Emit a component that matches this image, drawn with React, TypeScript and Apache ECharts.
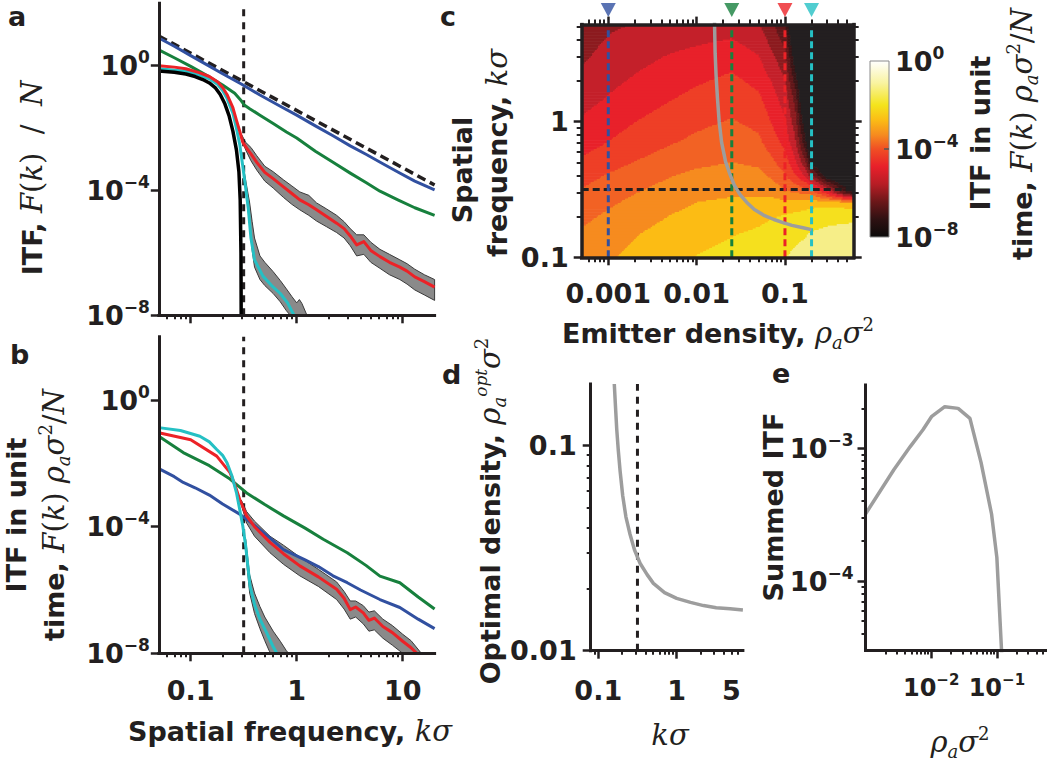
import React, { useEffect, useRef } from "react";
import * as echarts from "echarts";

// ---------------- data ----------------
const kCut = 0.316;

// Panel a: ITF F(k)/N vs spatial frequency kσ  ([kσ, value])
const theoryA = [[0.05, 9], [20, 1.5e-4]];
const blueA = [[0.05,7.7],[0.07,4.2],[0.1,2.1],[0.14,1.1],[0.2,0.55],[0.3,0.26],[0.45,0.115],[0.7,0.05],[1,0.026],[1.5,0.0118],[2.2,0.0057],[3.2,0.0027],[4.5,0.00145],[6.5,7.2e-4],[9,3.9e-4],[13,2e-4],[20,1.05e-4]];
const greenA = [[0.05,3.2],[0.07,1.8],[0.1,0.95],[0.14,0.5],[0.2,0.24],[0.26,0.13],[0.3,0.075],[0.32,0.055],[0.36,0.042],[0.45,0.026],[0.6,0.014],[0.8,0.0075],[1,0.0048],[1.5,0.0018],[2.2,8e-4],[3.2,3.6e-4],[4.5,1.8e-4],[6.1,9.5e-5],[9,5e-5],[13,2.8e-5],[20,1.6e-5]];
const redA = [[0.05,1.0],[0.07,0.9],[0.09,0.8],[0.12,0.6],[0.15,0.45],[0.18,0.3],[0.2,0.2],[0.22,0.12],[0.25,0.045],[0.27,0.018],[0.29,0.008],[0.31,0.0035],[0.34,0.0022],[0.37,0.0015],[0.42,8e-4],[0.5,3.8e-4],[0.6,2.4e-4],[0.75,1.3e-4],[0.9,8e-5],[1.07,5e-5],[1.3,3.5e-5],[1.54,2.4e-5],[1.9,1.5e-5],[2.38,9e-6],[2.8,6e-6],[3.2,3.5e-6],[3.68,1.8e-6],[4.3,2.3e-6],[5,1.2e-6],[6.1,7.6e-7],[7.5,5e-7],[9.4,3.5e-7],[11,2.6e-7],[13,1.7e-7],[16,1.2e-7],[20,8e-8]];
const redBandUpperA = [[0.3,0.0065],[0.33,0.0035],[0.37,0.0024],[0.42,0.0013],[0.5,6e-4],[0.6,4e-4],[0.75,2.2e-4],[0.9,1.4e-4],[1.07,9e-5],[1.3,7e-5],[1.54,4e-5],[1.9,2.6e-5],[2.38,1.6e-5],[2.8,1e-5],[3.2,6e-6],[3.68,3.8e-6],[4.3,3.8e-6],[5,2.2e-6],[6.1,1.3e-6],[7.5,9e-7],[9.4,6e-7],[11,4.5e-7],[13,3e-7],[16,2e-7],[20,1.4e-7]];
const redBandLowerA = [[0.3,0.0045],[0.33,0.002],[0.37,9e-4],[0.42,4.5e-4],[0.5,2e-4],[0.6,1.2e-4],[0.75,6e-5],[0.9,3.6e-5],[1.07,2.4e-5],[1.3,1.6e-5],[1.54,1.05e-5],[1.9,7e-6],[2.38,4.5e-6],[2.8,3e-6],[3.2,1.7e-6],[3.68,8e-7],[4.3,9e-7],[5,5e-7],[6.1,3.2e-7],[7.5,2e-7],[9.4,1.4e-7],[11,1e-7],[13,6.5e-8],[16,4.5e-8],[20,3e-8]];
const cyanA = [[0.05,0.8],[0.09,0.67],[0.12,0.5],[0.15,0.38],[0.18,0.25],[0.2,0.16],[0.22,0.09],[0.25,0.03],[0.27,0.01],[0.29,0.003],[0.31,6e-4],[0.33,1.2e-4],[0.35,2.5e-5],[0.37,3e-6],[0.4,6e-7],[0.48,1.8e-7],[0.58,9e-8],[0.7,5e-8],[0.82,2.5e-8],[0.93,1.1e-8],[1.0,7e-9]];
const cyanBandUpperA = [[0.32,4e-4],[0.34,1.2e-4],[0.36,4e-5],[0.38,1e-5],[0.4,3e-6],[0.45,8e-7],[0.5,5e-7],[0.6,2.5e-7],[0.7,1.3e-7],[0.8,7e-8],[0.9,4e-8],[1.0,2.5e-8],[1.06,3.2e-8],[1.12,2.4e-8],[1.25,1e-8]];
const cyanBandLowerA = [[0.32,2.5e-4],[0.34,5e-5],[0.36,8e-6],[0.38,1.2e-6],[0.4,3.5e-7],[0.45,1.4e-7],[0.5,9e-8],[0.6,5e-8],[0.7,2.7e-8],[0.8,1.4e-8],[0.87,1e-8],[1.25,1e-8]];
const blackA = [[0.05,0.68],[0.07,0.62],[0.09,0.54],[0.11,0.45],[0.13,0.36],[0.15,0.28],[0.17,0.2],[0.19,0.12],[0.21,0.06],[0.23,0.025],[0.25,0.008],[0.27,0.002],[0.285,4e-4],[0.293,5e-5],[0.298,1e-6],[0.3,1e-9]];

// Panel b: ITF in unit time F(k) ρσ²/N
const blueB = [[0.05,0.0068],[0.07,0.0038],[0.085,0.0025],[0.11,0.0017],[0.15,1.0e-3],[0.2,5.2e-4],[0.29,2.5e-4],[0.4,1.1e-4],[0.55,4.6e-5],[0.75,1.9e-5],[1.2,8.9e-6],[1.6,5.5e-6],[2.2,2.8e-6],[3,1.7e-6],[4,1e-6],[6.1,5e-7],[9.4,2.8e-7],[14,1.2e-7],[20,6e-8]];
const greenB = [[0.05,0.072],[0.085,0.022],[0.15,0.0085],[0.235,0.0032],[0.337,0.00117],[0.5,5e-4],[0.75,2.2e-4],[1.2,9e-5],[1.78,4e-5],[3,1.5e-5],[4.5,6e-6],[6.1,2.75e-6],[9.4,1.7e-6],[14,6e-7],[20,2.5e-7]];
const redB = [[0.05,0.093],[0.1,0.056],[0.176,0.017],[0.235,0.0051],[0.26,0.0022],[0.29,7.2e-4],[0.337,2.2e-4],[0.4,1e-4],[0.56,3.2e-5],[0.75,1.4e-5],[1.07,5.8e-6],[1.6,2.6e-6],[2.38,1.05e-6],[2.8,5.5e-7],[3.2,2.4e-7],[3.6,2.9e-7],[4.25,1.9e-7],[4.8,1.1e-7],[5.4,1.3e-7],[6.5,7e-8],[8,4.5e-8],[10,2.4e-8],[12,1.5e-8],[14,9e-9]];
const redBandUpperB = [[0.3,7e-4],[0.337,3e-4],[0.4,1.5e-4],[0.56,5e-5],[0.75,2.6e-5],[1.07,1.1e-5],[1.6,4.5e-6],[2.38,1.8e-6],[2.8,9e-7],[3.2,4.5e-7],[3.6,4.5e-7],[4.25,3.2e-7],[4.8,2e-7],[5.4,2.2e-7],[6.5,1.2e-7],[8,7.5e-8],[10,4e-8],[12,2.5e-8],[15,1e-8]];
const redBandLowerB = [[0.3,5e-4],[0.337,1.3e-4],[0.4,5e-5],[0.56,1.5e-5],[0.75,6.5e-6],[1.07,2.8e-6],[1.6,1.3e-6],[2.38,5e-7],[2.8,2.5e-7],[3.2,1.2e-7],[3.6,1.4e-7],[4.25,8.5e-8],[4.8,5e-8],[5.4,5.5e-8],[6.5,3e-8],[8,1.8e-8],[10,1e-8],[15,1e-8]];
const cyanB = [[0.05,0.135],[0.08,0.11],[0.122,0.072],[0.15,0.048],[0.176,0.0275],[0.2,0.018],[0.22,0.0105],[0.245,0.004],[0.27,0.0012],[0.29,3.5e-4],[0.31,1.05e-4],[0.33,2.5e-5],[0.363,1.3e-6],[0.4,3.5e-7],[0.45,1.2e-7],[0.52,4.5e-8],[0.6,1.6e-8],[0.65,1e-8],[0.7,6e-9]];
const cyanBandUpperB = [[0.33,4e-5],[0.36,3e-6],[0.4,8e-7],[0.45,3e-7],[0.5,1.4e-7],[0.6,5e-8],[0.7,2.4e-8],[0.8,1.2e-8],[0.84,1e-8]];
const cyanBandLowerB = [[0.33,1.5e-5],[0.36,8e-7],[0.4,1.8e-7],[0.45,6e-8],[0.5,2.5e-8],[0.55,1.2e-8],[0.57,1e-8],[0.84,1e-8]];

// Panel c: log10 ITF in unit time on (emitter density, spatial frequency) grid
const densCols = [5e-4, 1e-3, 2e-3, 5e-3, 0.01, 0.025, 0.05, 0.07, 0.1, 0.13, 0.17, 0.2, 0.3, 0.45, 0.62];
const kRows = [0.1, 0.15, 0.2, 0.25, 0.3, 0.4, 0.5, 0.7, 1, 1.5, 2, 3, 5.2];
const itfGrid = [
  [-2.95,-2.75,-2.5,-2.2,-1.98,-1.78,-1.6,-1.48,-1.35,-1.22,-1.12,-1.05,-0.95,-0.9,-0.88],
  [-3.25,-2.98,-2.72,-2.42,-2.22,-2.05,-1.9,-1.76,-1.62,-1.48,-1.38,-1.3,-1.2,-1.15,-1.12],
  [-3.5,-3.22,-2.96,-2.65,-2.45,-2.32,-2.17,-2.05,-1.95,-1.82,-1.7,-1.62,-1.52,-1.48,-1.45],
  [-3.72,-3.43,-3.17,-2.86,-2.65,-2.55,-2.42,-2.4,-2.45,-2.4,-2.35,-2.25,-2.2,-2.3,-2.5],
  [-3.92,-3.62,-3.36,-3.05,-2.85,-2.75,-2.8,-2.85,-3.2,-3.35,-3.5,-3.6,-5.0,-7.0,-8.2],
  [-4.25,-3.95,-3.68,-3.37,-3.18,-3.08,-3.15,-3.45,-3.95,-4.6,-5.4,-6.4,-8.6,-9.5,-9.5],
  [-4.55,-4.25,-3.98,-3.66,-3.47,-3.32,-3.45,-3.85,-4.35,-5.2,-6.5,-8.2,-9.5,-9.5,-9.5],
  [-4.95,-4.65,-4.38,-4.05,-3.85,-3.62,-3.85,-4.32,-4.85,-5.85,-7.8,-9.5,-9.5,-9.5,-9.5],
  [-5.25,-4.95,-4.68,-4.36,-4.15,-3.95,-4.18,-4.7,-5.25,-6.35,-8.6,-9.5,-9.5,-9.5,-9.5],
  [-5.6,-5.3,-5.03,-4.72,-4.5,-4.28,-4.55,-5.05,-5.65,-6.9,-9.5,-9.5,-9.5,-9.5,-9.5],
  [-5.8,-5.5,-5.25,-4.95,-4.75,-4.52,-4.85,-5.35,-5.95,-7.6,-9.5,-9.5,-9.5,-9.5,-9.5],
  [-6.1,-5.8,-5.55,-5.28,-5.12,-4.92,-5.3,-5.85,-6.45,-8.5,-9.5,-9.5,-9.5,-9.5,-9.5],
  [-6.35,-6.1,-5.98,-5.85,-5.75,-5.65,-5.95,-6.5,-7.3,-9.5,-9.5,-9.5,-9.5,-9.5,-9.5],
];
const markerDens = [0.001, 0.025, 0.1, 0.2];

// Panels c/d: optimal density vs spatial frequency
const optK = [0.16, 0.165, 0.172, 0.18, 0.19, 0.205, 0.225, 0.254, 0.29, 0.341, 0.42, 0.505, 0.7, 1.0, 1.5, 2.2, 3.2, 4.8, 7];
const optDens = [0.2, 0.16, 0.12, 0.095, 0.075, 0.057, 0.045, 0.037, 0.031, 0.0267, 0.0235, 0.0213, 0.0192, 0.018, 0.0172, 0.0166, 0.0162, 0.016, 0.0158];

// Panel e: summed ITF vs emitter density
const sumDens = [0.001, 0.0027, 0.0048, 0.0075, 0.0101, 0.0161, 0.0257, 0.0389, 0.0575, 0.083, 0.1, 0.12];
const sumITF = [3.2e-4, 6.9e-4, 1.03e-3, 1.38e-3, 1.73e-3, 2.06e-3, 2.0e-3, 1.68e-3, 7.8e-4, 3.2e-4, 1.5e-4, 2.5e-5];

// tick label values
const abXLabels = [0.1, 1, 10];
const abYLabels = [1e-8, 1e-4, 1];
const cXLabels = [0.001, 0.01, 0.1];
const cYLabels = [0.1, 1];
const cbLabels = [1e-8, 1e-4, 1];
const dXLabels = [0.1, 1, 5];
const dXMajor = [0.1, 1];
const dYLabels = [0.01, 0.1];
const eXLabels = [0.01, 0.1];
const eYLabels = [1e-4, 1e-3];

// ---------------- style ----------------
const INK = "#231f20";
const SANS = "DejaVu Sans";
const SERIF = "DejaVu Serif";
const C_BLUE = "#3150a0";
const C_GREEN = "#17803d";
const C_RED = "#ec2227";
const C_CYAN = "#25c0c4";
const C_GRAY = "#9d9d9d";
const markerColors = [C_BLUE, C_GREEN, C_RED, C_CYAN];

const AB_X = [0.05, 20];
const AB_Y = [1e-8, 100];
const C_X = [5e-4, 0.6];
const C_Y = [0.1, 5.2];
const CB_Y = [1e-8, 1];
const D_X = [0.08, 7];
const D_Y = [0.01, 0.2];
const E_X = [0.001, 0.55];
const E_Y = [3e-5, 3e-3];
const MARKER_K = 6.66; // position of the triangle markers just above panel c

const bandLevels = [-8, -7.333, -6.667, -6, -5.333, -4.667, -4, -3.333, -2.667, -2, -1.333, -0.667];
const bandColors = ["#231f20", "#3b1516", "#601719", "#8c1b1f", "#c4202a", "#e8212a", "#ee3f26", "#f26224", "#f68b1f", "#fcbc14", "#f5e01e", "#f6ee88", "#fdf8cc"];
const cbStops = [
  [0, "#ffffff"], [0.125, "#f9f3a0"], [0.25, "#f4e41c"], [0.33, "#fbbf15"], [0.42, "#f68b1f"],
  [0.5, "#f04f24"], [0.6, "#e8202a"], [0.7, "#b71d25"], [0.8, "#6b1719"], [0.9, "#2e1112"], [1, "#0a0a0a"],
];

const labelRich: any = {
  b: { fontFamily: SANS, fontWeight: "bold", fontSize: 27, lineHeight: 34, color: INK },
  s: { fontFamily: SANS, fontWeight: "bold", fontSize: 17, lineHeight: 24, verticalAlign: "top", color: INK },
};
const labelRichSmall: any = {
  b: { fontFamily: SANS, fontWeight: "bold", fontSize: 24, lineHeight: 32, color: INK },
  s: { fontFamily: SANS, fontWeight: "bold", fontSize: 15, lineHeight: 22, verticalAlign: "top", color: INK },
};
const expText = (v: number) => {
  const e = Math.round(Math.log10(v));
  return e === 0 ? "0" : "\u2212" + Math.abs(e);
};
const powFmt = (v: number) => `{b|10}{s|${expText(v)}}`;
const numFmt = (v: number) => `{b|${parseFloat(v.toPrecision(4))}}`;

function minorTickValues(min: number, max: number) {
  const out: number[] = [];
  for (let e = -10; e <= 3; e++) {
    for (let m = 2; m <= 9; m++) {
      const v = parseFloat((m * Math.pow(10, e)).toPrecision(6));
      if (v > min * 1.0001 && v < max * 0.9999) out.push(v);
    }
  }
  return out;
}

function logAxis(o: any) {
  return {
    type: "log",
    logBase: 10,
    gridIndex: o.grid,
    min: o.min,
    max: o.max,
    position: o.position,
    z: 10,
    silent: true,
    axisLine: { show: !!o.line, onZero: false, lineStyle: { color: INK, width: o.lineWidth || 3, cap: "square" } },
    axisTick: o.ticks
      ? { show: true, inside: !!o.inside, length: o.tickLen || 8, customValues: o.ticks, lineStyle: { color: o.tickColor || INK, width: o.tickWidth || 2.5 } }
      : { show: false },
    axisLabel: o.labels
      ? { show: true, customValues: o.labels, formatter: o.fmt, margin: o.margin, rich: o.rich || labelRich, color: INK, showMinLabel: true, showMaxLabel: true, hideOverlap: false }
      : { show: false },
    splitLine: { show: false },
    axisPointer: { show: false },
  };
}

function line(data: any, color: string, width: number, xi: number, yi: number, z = 4, dash: any = "solid") {
  return {
    type: "line",
    xAxisIndex: xi,
    yAxisIndex: yi,
    data,
    symbol: "none",
    showSymbol: false,
    silent: true,
    clip: true,
    z,
    lineStyle: { color, width, type: dash, cap: "butt", join: "round" },
  };
}

function band(upper: number[][], lower: number[][], xi: number, yi: number) {
  return {
    type: "custom",
    coordinateSystem: "cartesian2d",
    xAxisIndex: xi,
    yAxisIndex: yi,
    silent: true,
    z: 2,
    data: [[upper[0][0], upper[0][1]]],
    renderItem: (params: any, api: any) => {
      const pts = upper.map((p) => api.coord(p)).concat(lower.slice().reverse().map((p) => api.coord(p)));
      return { type: "polygon", shape: { points: pts }, style: { fill: "#8a8a8a", stroke: "#3a3a3a", lineWidth: 1 } };
    },
  };
}

// contour helpers
const lDens = densCols.map(Math.log10);
const lK = kRows.map(Math.log10);
function locate(arr: number[], v: number): [number, number] {
  if (v <= arr[0]) return [0, 0];
  if (v >= arr[arr.length - 1]) return [arr.length - 2, 1];
  let i = 0;
  while (v > arr[i + 1]) i++;
  return [i, (v - arr[i]) / (arr[i + 1] - arr[i])];
}
function itfAt(ld: number, lk: number) {
  const [i, tx] = locate(lDens, ld);
  const [j, ty] = locate(lK, lk);
  const a = itfGrid[j][i], b = itfGrid[j][i + 1], c = itfGrid[j + 1][i], d = itfGrid[j + 1][i + 1];
  return (a * (1 - tx) + b * tx) * (1 - ty) + (c * (1 - tx) + d * tx) * ty;
}
function bandIndex(v: number) {
  let i = 0;
  while (i < bandLevels.length && v >= bandLevels[i]) i++;
  return i;
}

const titleRich: any = {
  b: { fontFamily: SANS, fontWeight: "bold", fontSize: 27, fill: INK, lineHeight: 36 },
  i: { fontFamily: SERIF, fontStyle: "italic", fontSize: 29, fill: INK, lineHeight: 36 },
  r: { fontFamily: SERIF, fontSize: 29, fill: INK, lineHeight: 36 },
  sub: { fontFamily: SERIF, fontStyle: "italic", fontSize: 18, fill: INK, lineHeight: 18, verticalAlign: "bottom" },
  sup: { fontFamily: SERIF, fontSize: 18, fill: INK, lineHeight: 18, verticalAlign: "top" },
  supi: { fontFamily: SERIF, fontStyle: "italic", fontSize: 17, fill: INK, lineHeight: 18, verticalAlign: "top" },
};
function title(text: string, x: number, y: number, rotate = false) {
  return {
    type: "text",
    x,
    y,
    rotation: rotate ? Math.PI / 2 : 0,
    silent: true,
    style: { text, rich: titleRich, align: "center", verticalAlign: "middle", fill: INK },
  };
}
function letter(text: string, x: number, y: number) {
  return {
    type: "text",
    x,
    y,
    silent: true,
    style: { text, fontFamily: SANS, fontWeight: "bold", fontSize: 27, lineHeight: 20, fill: INK, align: "left", verticalAlign: "middle" },
  };
}

const ITF_UNIT = "{b|time, }{i|F}{r|(}{i|k}{r|) }{i|\u03c1}{sub|a}{i|\u03c3}{sup|2}{r|/}{i|N}";

function buildOption(): any {
  const grids = [
    { left: 158.8, top: 3.3, width: 275.8, height: 312 },
    { left: 158.8, top: 336.8, width: 275.8, height: 316.5 },
    { left: 581.7, top: 24.6, width: 272, height: 232.7 },
    { left: 870, top: 61, width: 19, height: 176 },
    { left: 590.7, top: 384, width: 152.2, height: 266.7 },
    { left: 865.5, top: 385, width: 180, height: 265.4 },
  ].map((g) => ({ ...g, containLabel: false, outerBoundsMode: "none", show: false }));

  const xAxis = [
    logAxis({ grid: 0, min: AB_X[0], max: AB_X[1], position: "bottom", line: true, ticks: abXLabels, tickLen: 8 }),
    logAxis({ grid: 0, min: AB_X[0], max: AB_X[1], position: "bottom", ticks: minorTickValues(AB_X[0], AB_X[1]), tickLen: 4, tickWidth: 2 }),
    logAxis({ grid: 1, min: AB_X[0], max: AB_X[1], position: "bottom", line: true, ticks: abXLabels, tickLen: 8, labels: abXLabels, fmt: numFmt, margin: 20 }),
    logAxis({ grid: 1, min: AB_X[0], max: AB_X[1], position: "bottom", ticks: minorTickValues(AB_X[0], AB_X[1]), tickLen: 4, tickWidth: 2 }),
    logAxis({ grid: 2, min: C_X[0], max: C_X[1], position: "bottom", line: true, lineWidth: 3.5, ticks: cXLabels, tickLen: 8, labels: cXLabels, fmt: numFmt, margin: 19 }),
    logAxis({ grid: 2, min: C_X[0], max: C_X[1], position: "bottom", ticks: minorTickValues(C_X[0], C_X[1]), tickLen: 5, tickWidth: 2 }),
    logAxis({ grid: 2, min: C_X[0], max: C_X[1], position: "top", line: true, lineWidth: 3.5, ticks: cXLabels, tickLen: 8 }),
    logAxis({ grid: 2, min: C_X[0], max: C_X[1], position: "top", ticks: minorTickValues(C_X[0], C_X[1]), tickLen: 5, tickWidth: 2 }),
    { type: "value", gridIndex: 3, min: 0, max: 1, show: false },
    logAxis({ grid: 4, min: D_X[0], max: D_X[1], position: "bottom", line: true, ticks: dXMajor, tickLen: 8, labels: dXLabels, fmt: numFmt, margin: 23 }),
    logAxis({ grid: 4, min: D_X[0], max: D_X[1], position: "bottom", ticks: minorTickValues(D_X[0], D_X[1]), tickLen: 4, tickWidth: 2 }),
    logAxis({ grid: 5, min: E_X[0], max: E_X[1], position: "bottom", line: true, ticks: eXLabels, tickLen: 8, labels: eXLabels, fmt: powFmt, margin: 22, rich: labelRichSmall }),
    logAxis({ grid: 5, min: E_X[0], max: E_X[1], position: "bottom", ticks: minorTickValues(E_X[0], E_X[1]), tickLen: 4, tickWidth: 2 }),
  ];

  const yAxis = [
    logAxis({ grid: 0, min: AB_Y[0], max: AB_Y[1], position: "left", line: true, ticks: abYLabels, tickLen: 8, labels: abYLabels, fmt: powFmt, margin: 9 }),
    logAxis({ grid: 1, min: AB_Y[0], max: AB_Y[1], position: "left", line: true, ticks: abYLabels, tickLen: 8, labels: abYLabels, fmt: powFmt, margin: 9 }),
    logAxis({ grid: 2, min: C_Y[0], max: C_Y[1], position: "left", line: true, lineWidth: 3.5, ticks: cYLabels, tickLen: 8, labels: cYLabels, fmt: numFmt, margin: 13 }),
    logAxis({ grid: 2, min: C_Y[0], max: C_Y[1], position: "left", ticks: minorTickValues(C_Y[0], C_Y[1]), tickLen: 5, tickWidth: 2 }),
    logAxis({ grid: 2, min: C_Y[0], max: C_Y[1], position: "right", line: true, lineWidth: 3.5, ticks: cYLabels, tickLen: 8 }),
    logAxis({ grid: 2, min: C_Y[0], max: C_Y[1], position: "right", ticks: minorTickValues(C_Y[0], C_Y[1]), tickLen: 5, tickWidth: 2 }),
    logAxis({ grid: 3, min: CB_Y[0], max: CB_Y[1], position: "right", ticks: [1e-4], inside: true, tickLen: 5, tickWidth: 1.5, tickColor: "#555", labels: cbLabels, fmt: powFmt, margin: 6 }),
    logAxis({ grid: 4, min: D_Y[0], max: D_Y[1], position: "left", line: true, ticks: dYLabels, tickLen: 8, labels: dYLabels, fmt: numFmt, margin: 14 }),
    logAxis({ grid: 4, min: D_Y[0], max: D_Y[1], position: "left", ticks: minorTickValues(D_Y[0], D_Y[1]), tickLen: 4, tickWidth: 2 }),
    logAxis({ grid: 5, min: E_Y[0], max: E_Y[1], position: "left", line: true, ticks: eYLabels, tickLen: 8, labels: eYLabels, fmt: powFmt, margin: 12 }),
    logAxis({ grid: 5, min: E_Y[0], max: E_Y[1], position: "left", ticks: minorTickValues(E_Y[0], E_Y[1]), tickLen: 4, tickWidth: 2 }),
  ];

  const DASH_K = [7, 6];
  const DASH_C = [7, 4];

  const series: any[] = [
    // ---- panel a ----
    band(redBandUpperA, redBandLowerA, 0, 0),
    band(cyanBandUpperA, cyanBandLowerA, 0, 0),
    line([[kCut, AB_Y[0]], [kCut, AB_Y[1]]], INK, 3, 0, 0, 3, DASH_K),
    line(theoryA, INK, 3.5, 0, 0, 3, [9, 5]),
    line(blueA, C_BLUE, 3, 0, 0),
    line(greenA, C_GREEN, 3, 0, 0),
    line(cyanA, C_CYAN, 3, 0, 0),
    line(redA, C_RED, 3, 0, 0),
    line(blackA, "#000000", 3.5, 0, 0, 5),
    // ---- panel b ----
    band(redBandUpperB, redBandLowerB, 2, 1),
    band(cyanBandUpperB, cyanBandLowerB, 2, 1),
    line([[kCut, AB_Y[0]], [kCut, AB_Y[1]]], INK, 3, 2, 1, 3, DASH_K),
    line(blueB, C_BLUE, 3, 2, 1),
    line(greenB, C_GREEN, 3, 2, 1),
    line(redB, C_RED, 3, 2, 1),
    line(cyanB, C_CYAN, 3, 2, 1),
    // ---- panel c ----
    {
      type: "custom",
      coordinateSystem: "cartesian2d",
      xAxisIndex: 4,
      yAxisIndex: 2,
      silent: true,
      z: 1,
      data: [[0.01, 1]],
      renderItem: (params: any, api: any) => {
        const p0 = api.coord([C_X[0], C_Y[0]]);
        const p1 = api.coord([C_X[1], C_Y[1]]);
        const x0 = p0[0], x1 = p1[0], yb = p0[1], yt = p1[1];
        const lx0 = Math.log10(C_X[0]), lx1 = Math.log10(C_X[1]);
        const ly0 = Math.log10(C_Y[0]), ly1 = Math.log10(C_Y[1]);
        const step = 1.5;
        const children: any[] = [];
        for (let py = yt; py < yb - 0.01; py += step) {
          const h = Math.min(step, yb - py);
          const ly = ly1 - ((py + h / 2 - yt) / (yb - yt)) * (ly1 - ly0);
          let runStart = x0;
          let runBand = -1;
          for (let px = x0; px < x1 - 0.01; px += step) {
            const w = Math.min(step, x1 - px);
            const lx = lx0 + ((px + w / 2 - x0) / (x1 - x0)) * (lx1 - lx0);
            const b = bandIndex(itfAt(lx, ly));
            if (b !== runBand) {
              if (runBand >= 0) {
                children.push({ type: "rect", shape: { x: runStart, y: py, width: px - runStart + 0.6, height: h + 0.6 }, style: { fill: bandColors[runBand] } });
              }
              runStart = px;
              runBand = b;
            }
          }
          children.push({ type: "rect", shape: { x: runStart, y: py, width: x1 - runStart, height: h + 0.6 }, style: { fill: bandColors[runBand] } });
        }
        return { type: "group", children };
      },
    },
    line([[C_X[0], kCut], [C_X[1], kCut]], INK, 3, 4, 2, 3, DASH_C),
    ...markerDens.map((d, i) => line([[d, C_Y[0]], [d, C_Y[1]]], markerColors[i], 3, 4, 2, 3, DASH_C)),
    line(optDens.map((d, i) => [d, optK[i]]), C_GRAY, 3.5, 4, 2, 4),
    {
      type: "scatter",
      xAxisIndex: 4,
      yAxisIndex: 2,
      silent: true,
      clip: false,
      z: 6,
      symbol: "triangle",
      symbolRotate: 180,
      symbolSize: [15, 14],
      data: markerDens.map((d, i) => ({ value: [d, MARKER_K], itemStyle: { color: markerColors[i] } })),
    },
    // ---- colorbar ----
    {
      type: "custom",
      coordinateSystem: "cartesian2d",
      xAxisIndex: 8,
      yAxisIndex: 6,
      silent: true,
      z: 1,
      data: [[0.5, 1e-4]],
      renderItem: (params: any, api: any) => {
        const top = api.coord([0, CB_Y[1]]);
        const bot = api.coord([1, CB_Y[0]]);
        return {
          type: "rect",
          shape: { x: top[0], y: top[1], width: bot[0] - top[0], height: bot[1] - top[1] },
          style: {
            fill: new echarts.graphic.LinearGradient(0, 0, 0, 1, cbStops.map((s) => ({ offset: s[0] as number, color: s[1] as string }))),
            stroke: "#8a8a8a",
            lineWidth: 1,
          },
        };
      },
    },
    // ---- panel d ----
    line([[kCut, D_Y[0]], [kCut, D_Y[1]]], INK, 3, 9, 7, 3, DASH_K),
    line(optK.map((k, i) => [k, optDens[i]]), C_GRAY, 3.5, 9, 7, 4),
    // ---- panel e ----
    line(sumDens.map((d, i) => [d, sumITF[i]]), C_GRAY, 3.5, 11, 9, 4),
  ];

  const graphic = [
    letter("a", 8, 16),
    letter("b", 10, 354),
    letter("c", 440, 16),
    letter("d", 442, 374),
    letter("e", 772, 373),
    title("{b|ITF, }{i|F}{r|(}{i|k}{r|)  /  }{i|N}", 32, 178, true),
    title("{b|ITF in unit}", 16, 515, true),
    title(ITF_UNIT, 54, 515, true),
    title("{b|Spatial frequency, }{i|k\u03c3}", 290, 731),
    title("{b|Spatial}", 462, 170, true),
    title("{b|frequency, }{i|k\u03c3}", 497, 153, true),
    title("{b|Emitter density, }{i|\u03c1}{sub|a}{i|\u03c3}{sup|2}", 718, 333),
    title("{b|ITF in unit}", 980, 133, true),
    title(ITF_UNIT, 1022, 134, true),
    title("{b|Optimal density, }{i|\u03c1}{sub|a}{supi|opt}{i|\u03c3}{sup|2}", 490, 511, true),
    title("{i|k\u03c3}", 670, 735),
    title("{b|Summed ITF}", 773, 507, true),
    title("{i|\u03c1}{sub|a}{i|\u03c3}{sup|2}", 960, 742),
  ];

  return {
    animation: false,
    backgroundColor: "#ffffff",
    textStyle: { fontFamily: SANS },
    grid: grids,
    xAxis,
    yAxis,
    series,
    graphic,
  };
}

export default function App() {
  const ref = useRef<HTMLDivElement>(null);
  useEffect(() => {
    document.body.style.margin = "0";
    const chart = echarts.init(ref.current as HTMLDivElement, null, { renderer: "svg", width: 1050, height: 763 });
    chart.setOption(buildOption());
    return () => {
      chart.dispose();
    };
  }, []);
  return <div ref={ref} style={{ width: 1050, height: 763, background: "#fff" }} />;
}
